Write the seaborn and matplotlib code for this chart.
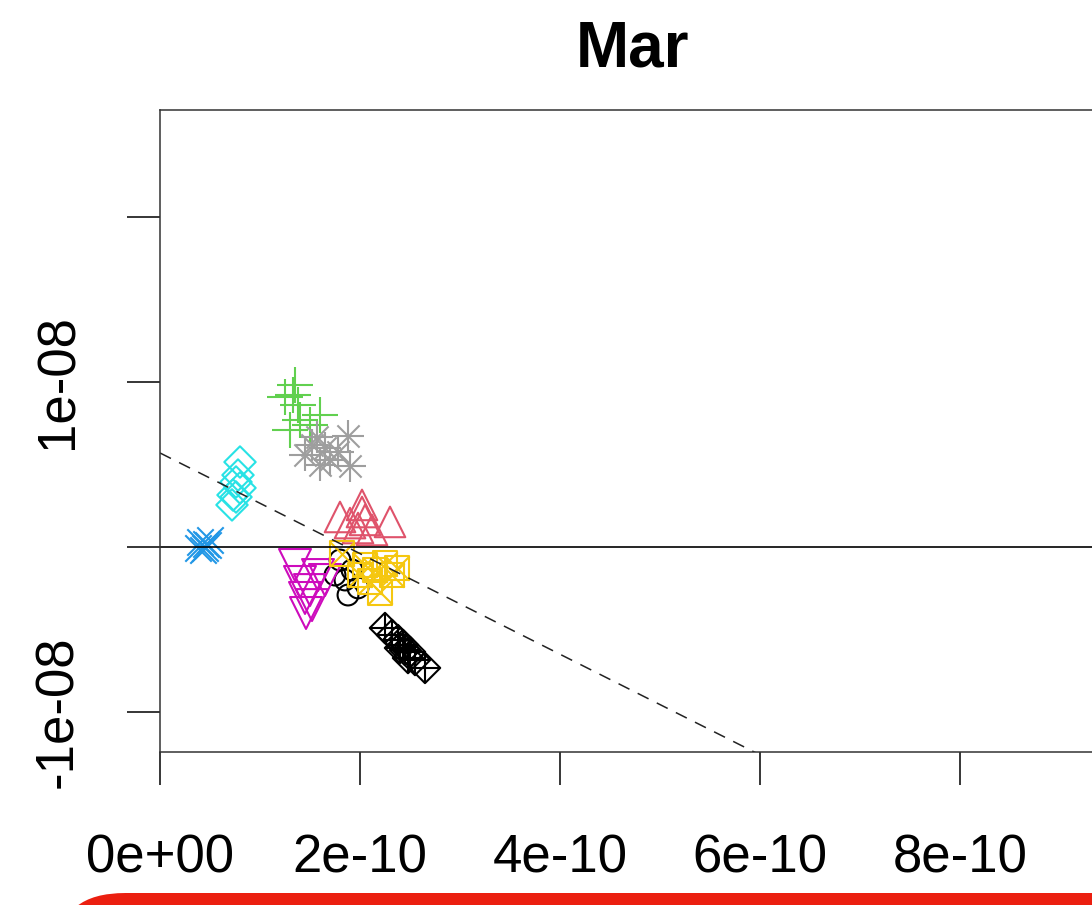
import numpy as np
import pandas as pd
import matplotlib
matplotlib.use("Agg")
import matplotlib.pyplot as plt
import seaborn as sns
from matplotlib.patches import FancyBboxPatch

sns.set_style("white")
plt.rcParams['font.family'] = ['Liberation Sans', 'DejaVu Sans']
plt.rcParams['text.color'] = 'black'
plt.rcParams['xtick.color'] = 'black'
plt.rcParams['ytick.color'] = 'black'
plt.rcParams['axes.labelcolor'] = 'black'

# ---- data ----
title = "Mar"
x_ticks = [0, 2e-10, 4e-10, 6e-10, 8e-10]
x_tick_labels = ["0e+00", "2e-10", "4e-10", "6e-10", "8e-10"]
y_ticks = [-1e-8, 0, 1e-8, 2e-8]
y_tick_labels = ["-1e-08", "", "1e-08", ""]

circle_x = [1.80, 1.85, 1.88, 1.98, 1.75, 1.92]
circle_y = [-0.079, -0.200, -0.291, -0.248, -0.170, -0.139]

tri_x = [1.80, 2.02, 2.05, 2.30, 1.98, 2.12, 1.90, 2.02]
tri_y = [0.182, 0.255, 0.164, 0.152, 0.115, 0.103, 0.145, 0.212]

plus_x = [1.35, 1.25, 1.38, 1.40, 1.30, 1.60, 1.50, 1.33]
plus_y = [0.982, 0.909, 0.861, 0.770, 0.709, 0.800, 0.739, 0.921]

cross_x = [0.40, 0.45, 0.48, 0.43, 0.50, 0.38, 0.46]
cross_y = [0.030, -0.006, 0.012, -0.018, 0.042, -0.006, 0.018]

diam_x = [0.80, 0.78, 0.76, 0.80, 0.73, 0.72, 0.76]
diam_y = [0.515, 0.436, 0.394, 0.358, 0.315, 0.255, 0.303]

itri_x = [1.35, 1.58, 1.40, 1.50, 1.45, 1.52, 1.65, 1.46]
itri_y = [-0.109, -0.170, -0.212, -0.261, -0.309, -0.352, -0.200, -0.400]

sqx_x = [1.82, 2.05, 2.25, 2.32, 2.10, 2.20, 2.00, 2.15, 2.37]
sqx_y = [-0.040, -0.109, -0.100, -0.170, -0.210, -0.275, -0.170, -0.139, -0.127]

ast_x = [1.57, 1.88, 1.65, 1.45, 1.70, 1.90, 1.60, 1.78, 1.52]
ast_y = [0.667, 0.673, 0.600, 0.558, 0.527, 0.491, 0.497, 0.576, 0.618]

dplus_x = [2.25, 2.32, 2.38, 2.43, 2.45, 2.50, 2.48, 2.55, 2.65, 2.40]
dplus_y = [-0.491, -0.533, -0.564, -0.594, -0.624, -0.636, -0.673, -0.685, -0.733, -0.612]

x_unit = 1e-10
y_unit = 1e-8
line_intercept = 5.7e-9
line_slope = -30.5

# ---- figure ----
W, H = 1092, 905
fig = plt.figure(figsize=(W / 100, H / 100), dpi=100)
ax_left, ax_right, ax_top, ax_bottom = 160, 1106, 110, 752
ax = fig.add_axes([ax_left / W, 1 - ax_bottom / H, (ax_right - ax_left) / W, (ax_bottom - ax_top) / H])

groups = [
    (circle_x, circle_y, ['o'], '#000000', [15]),
    (tri_x, tri_y, ['^'], '#DF536B', [22]),
    (plus_x, plus_y, ['+'], '#61D04F', [26]),
    (cross_x, cross_y, ['x'], '#2297E6', [19]),
    (diam_x, diam_y, ['D'], '#28E2E5', [16]),
    (itri_x, itri_y, ['v'], '#CD0BBC', [23]),
    (sqx_x, sqx_y, ['s', 'x'], '#F5C710', [17.5, 17.5]),
    (ast_x, ast_y, ['+', 'x'], '#9E9E9E', [23, 16]),
    (dplus_x, dplus_y, ['D', '+'], '#000000', [15.5, 22]),
]

for gx, gy, markers, color, sizes in groups:
    df = pd.DataFrame({"x": np.array(gx) * x_unit, "y": np.array(gy) * y_unit})
    for m, s in zip(markers, sizes):
        if m in ('+', 'x'):
            sns.scatterplot(data=df, x="x", y="y", marker=m, s=s ** 2, color=color,
                            linewidth=1.5, ax=ax, legend=False)
        else:
            sns.scatterplot(data=df, x="x", y="y", marker=m, s=s ** 2, facecolor='none',
                            edgecolor=color, linewidth=1.5, ax=ax, legend=False)

ax.axhline(0, color='black', lw=1.2, zorder=1)
xs = np.array([0, 10e-10])
ax.plot(xs, line_intercept + line_slope * xs, color='#222222', lw=1.1,
        dashes=(8, 6), zorder=1)

ax.set_xlim(0, (ax_right - ax_left) / 100 * x_unit)
ax.set_ylim(-(ax_bottom - 547) / 165 * y_unit, (547 - ax_top) / 165 * y_unit)

ax.set_xticks(x_ticks)
ax.set_xticklabels(x_tick_labels)
ax.set_yticks(y_ticks)
ax.set_yticklabels(y_tick_labels, rotation=90, va='center')
ax.set_xlabel("")
ax.set_ylabel("")

ax.tick_params(axis='both', direction='out', length=24, width=1.1, color='black',
               labelsize=38, labelcolor='black', left=True, bottom=True)
ax.tick_params(axis='x', pad=35)
ax.tick_params(axis='y', pad=31)

for side in ['top', 'left', 'bottom', 'right']:
    ax.spines[side].set_color('#333333')
    ax.spines[side].set_linewidth(1.1)

ax.set_title(title, fontsize=46, fontweight='bold', pad=31, color='black')

# red rounded banner at the bottom
banner = FancyBboxPatch((60 / W, -0.2), 1.2, 0.2 + (H - 893) / H,
                        boxstyle="round,pad=0,rounding_size=0.06",
                        transform=fig.transFigure, facecolor='#EB1F10',
                        edgecolor='none', clip_on=False)
fig.patches.append(banner)

fig.savefig("out.png", dpi=100)
